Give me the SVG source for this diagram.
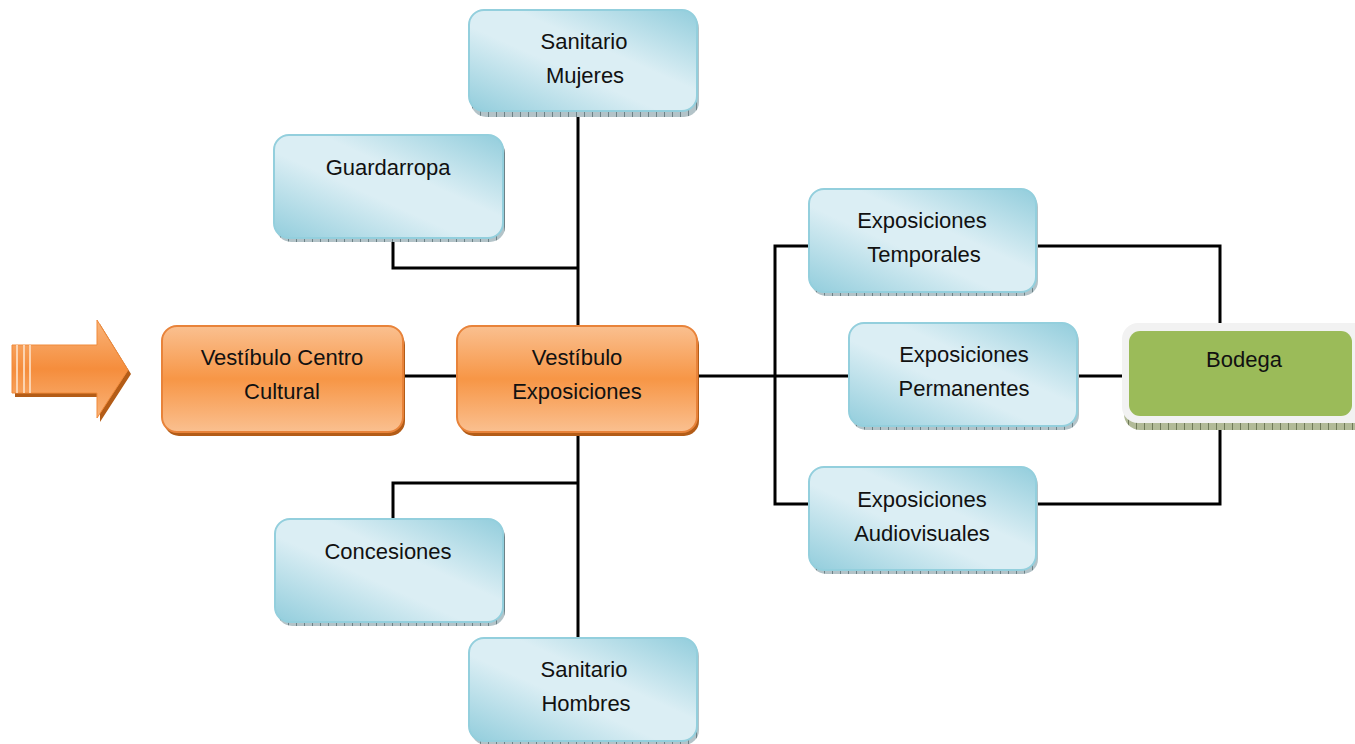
<svg xmlns="http://www.w3.org/2000/svg" width="1355" height="744" viewBox="0 0 1355 744">
<defs>
<linearGradient id="blueG" x1="0" y1="1" x2="1" y2="0">
<stop offset="0" stop-color="#92cddc"/>
<stop offset="0.42" stop-color="#dbeef4"/>
<stop offset="0.6" stop-color="#dbeef4"/>
<stop offset="1" stop-color="#92cddc"/>
</linearGradient>
<linearGradient id="orangeG" x1="0" y1="0" x2="0" y2="1">
<stop offset="0" stop-color="#fac090"/>
<stop offset="0.5" stop-color="#f79646"/>
<stop offset="1" stop-color="#fac090"/>
</linearGradient>
<linearGradient id="arrowG" x1="0" y1="0" x2="0" y2="1">
<stop offset="0" stop-color="#f9b47a"/>
<stop offset="0.5" stop-color="#f58d3c"/>
<stop offset="1" stop-color="#f9b47a"/>
</linearGradient>
<pattern id="hatch" width="8" height="8" patternUnits="userSpaceOnUse">
<rect width="8" height="8" fill="#b3c3c8"/>
<path d="M0.5 0V8" stroke="#6d8287" stroke-width="1"/>
</pattern>
<pattern id="hatchG" width="8" height="8" patternUnits="userSpaceOnUse">
<rect width="8" height="8" fill="#b2bb98"/>
<path d="M0.5 0V8" stroke="#6f7a58" stroke-width="1"/>
</pattern>
<style>
.bs{fill:url(#hatch)}
.bb{fill:url(#blueG);stroke:#93cfdd;stroke-width:2}
.os{fill:#b35c17}
.ob{fill:url(#orangeG);stroke:#e8833a;stroke-width:2}
.t{font-family:"Liberation Sans","DejaVu Sans",sans-serif;font-size:22px;fill:#111;text-anchor:middle}
.c{fill:none;stroke:#000;stroke-width:3}
</style>
</defs>
<rect width="1355" height="744" fill="#fff"/>

<g id="connectors">
<path class="c" d="M578 112V326M578 434V638"/>
<path class="c" d="M393 240V268H578"/>
<path class="c" d="M393 519V483H578"/>
<path class="c" d="M403 376H457"/>
<path class="c" d="M697 376H849"/>
<path class="c" d="M809 246H775V504H809"/>
<path class="c" d="M1036 246H1220V323"/>
<path class="c" d="M1036 504H1220V428"/>
<path class="c" d="M1077 376H1122"/>
</g>

<g id="arrow">
<polygon points="15,349 100,349 100,324 131,374 100,422 100,397 15,397" fill="#b35c17"/>
<polygon points="12,345 97,345 97,320 128,370 97,418 97,393 12,393" fill="url(#arrowG)" stroke="#f08a3a" stroke-width="1"/>
<rect x="16" y="345" width="2" height="48" fill="#fcd3b0"/>
<rect x="23" y="345" width="2" height="48" fill="#fcd3b0"/>
<rect x="29" y="345" width="2" height="48" fill="#fcd3b0"/>
</g>

<g id="sanitario-mujeres">
<rect class="bs" x="471" y="13" width="228" height="104" rx="15"/>
<rect class="bb" x="469" y="10" width="228" height="101" rx="15"/>
<text class="t" x="584" y="49">Sanitario</text>
<text class="t" x="585" y="83">Mujeres</text>
</g>

<g id="guardarropa">
<rect class="bs" x="276" y="138" width="229" height="104" rx="15"/>
<rect class="bb" x="274" y="135" width="229" height="103" rx="15"/>
<text class="t" x="388" y="175">Guardarropa</text>
</g>

<g id="vestibulo-centro-cultural">
<rect class="os" x="164" y="330" width="241" height="106" rx="15"/>
<rect class="ob" x="162" y="326" width="241" height="106" rx="15"/>
<text class="t" x="282" y="365">Vestíbulo Centro</text>
<text class="t" x="282" y="399">Cultural</text>
</g>

<g id="vestibulo-exposiciones">
<rect class="os" x="459" y="330" width="240" height="106" rx="15"/>
<rect class="ob" x="457" y="326" width="240" height="106" rx="15"/>
<text class="t" x="577" y="365">Vestíbulo</text>
<text class="t" x="577" y="399">Exposiciones</text>
</g>

<g id="exposiciones-temporales">
<rect class="bs" x="811" y="192" width="227" height="104" rx="15"/>
<rect class="bb" x="809" y="189" width="227" height="103" rx="15"/>
<text class="t" x="922" y="228">Exposiciones</text>
<text class="t" x="924" y="262">Temporales</text>
</g>

<g id="exposiciones-permanentes">
<rect class="bs" x="851" y="326" width="228" height="104" rx="15"/>
<rect class="bb" x="849" y="323" width="228" height="103" rx="15"/>
<text class="t" x="964" y="362">Exposiciones</text>
<text class="t" x="964" y="396">Permanentes</text>
</g>

<g id="exposiciones-audiovisuales">
<rect class="bs" x="811" y="470" width="227" height="104" rx="15"/>
<rect class="bb" x="809" y="467" width="227" height="103" rx="15"/>
<text class="t" x="922" y="507">Exposiciones</text>
<text class="t" x="922" y="541">Audiovisuales</text>
</g>

<g id="concesiones">
<rect class="bs" x="277" y="522" width="228" height="104" rx="15"/>
<rect class="bb" x="275" y="519" width="228" height="103" rx="15"/>
<text class="t" x="388" y="559">Concesiones</text>
</g>

<g id="sanitario-hombres">
<rect class="bs" x="471" y="641" width="228" height="104" rx="15"/>
<rect class="bb" x="469" y="638" width="228" height="103" rx="15"/>
<text class="t" x="584" y="677">Sanitario</text>
<text class="t" x="586" y="711">Hombres</text>
</g>

<g id="bodega">
<rect x="1124" y="327" width="250" height="103" rx="16" fill="url(#hatchG)"/>
<rect x="1122" y="323" width="250" height="100" rx="16" fill="#f2f2f2"/>
<rect x="1129" y="331" width="223" height="85" rx="11" fill="#9bbb59"/>
<text class="t" x="1244" y="367">Bodega</text>
</g>
</svg>
